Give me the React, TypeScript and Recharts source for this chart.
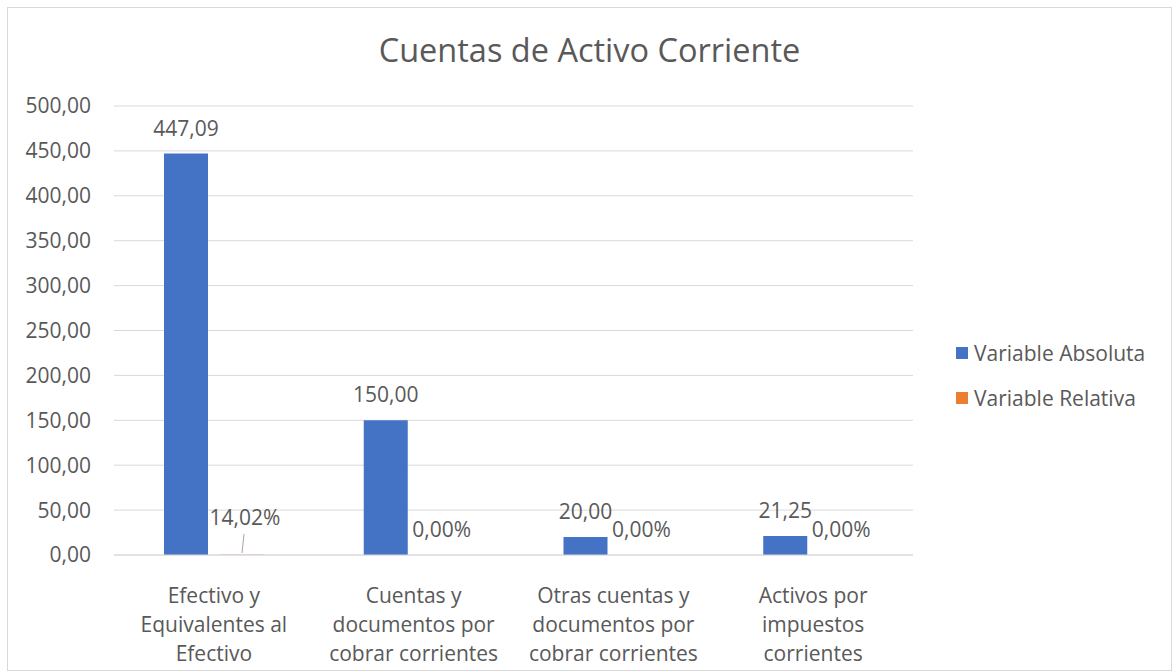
import React from "react";
import { BarChart, Bar, XAxis, YAxis, CartesianGrid, Legend, LabelList } from "recharts";

const categories = [
  "Efectivo y\nEquivalentes al\nEfectivo",
  "Cuentas y\ndocumentos por\ncobrar corrientes",
  "Otras cuentas y\ndocumentos por\ncobrar corrientes",
  "Activos por\nimpuestos\ncorrientes",
];
const variableAbsoluta = [447.09, 150.0, 20.0, 21.25];
const variableRelativa = [0.1402, 0, 0, 0];
const yTicks = [0, 50, 100, 150, 200, 250, 300, 350, 400, 450, 500];

const data = categories.map((name, i) => ({
  name,
  absoluta: variableAbsoluta[i],
  relativa: variableRelativa[i],
}));

const FONT = "'Open Sans', sans-serif";
const TEXT = "#595959";
const BLUE = "#4472C4";
const ORANGE = "#ED7D31";
const BAR_SIZE = 44;
const BAR_GAP = 12;
const FS = 21;

const fmt = (v: number) => v.toFixed(2).replace(".", ",");

function CategoryTick({ x, y, payload }: any) {
  const lines = String(payload.value).split("\n");
  return (
    <text x={x} y={y} textAnchor="middle" fill={TEXT} fontSize={FS} fontFamily={FONT}>
      {lines.map((l, i) => (
        <tspan key={i} x={x} y={y + 40 + i * 29}>
          {l}
        </tspan>
      ))}
    </text>
  );
}

// label for the relative series, placed over the (zero-height) orange bar next to each blue bar
function RelLabel({ x, width, index, yScaleZero }: any) {
  const value = variableRelativa[index];
  const cx = x + width + BAR_GAP + BAR_SIZE / 2;
  const y = yScaleZero;
  const txt = `${fmt(value * 100)}%`;
  if (value > 0) {
    return (
      <g>
        <text x={cx + 3} y={y - 30} textAnchor="middle" fill={TEXT} fontSize={FS} fontFamily={FONT}>
          {txt}
        </text>
        <line x1={cx + 2} y1={y - 21} x2={cx} y2={y - 2} stroke="#a6a6a6" strokeWidth={1} />
      </g>
    );
  }
  return (
    <text x={cx} y={y - 18} textAnchor="middle" fill={TEXT} fontSize={FS} fontFamily={FONT}>
      {txt}
    </text>
  );
}

function LegendBox() {
  const items = [
    { label: "Variable Absoluta", color: BLUE },
    { label: "Variable Relativa", color: ORANGE },
  ];
  return (
    <div style={{ fontFamily: FONT, fontSize: FS, color: TEXT }}>
      {items.map((it) => (
        <div key={it.label} style={{ display: "flex", alignItems: "center", height: 45 }}>
          <span style={{ display: "inline-block", width: 12, height: 12, background: it.color, marginRight: 6 }} />
          <span>{it.label}</span>
        </div>
      ))}
    </div>
  );
}

export default function App() {
  return (
    <div
      style={{
        position: "absolute",
        left: 7,
        top: 7,
        width: 1163,
        height: 662,
        border: "1px solid #d9d9d9",
        background: "#fff",
      }}
    >
      <div
        style={{
          position: "absolute",
          left: 0,
          right: 0,
          top: 19,
          textAlign: "center",
          fontFamily: FONT,
          fontSize: 32.5,
          color: TEXT,
        }}
      >
        Cuentas de Activo Corriente
      </div>
      <BarChart
        width={1163}
        height={662}
        data={data}
        margin={{ top: 98, right: 43, left: 0, bottom: 0 }}
        barSize={BAR_SIZE}
        barGap={BAR_GAP}
      >
        <CartesianGrid stroke="#d9d9d9" vertical={false} />
        <XAxis
          dataKey="name"
          tick={<CategoryTick />}
          tickLine={false}
          axisLine={{ stroke: "#d9d9d9" }}
          height={115}
          interval={0}
        />
        <YAxis
          domain={[0, 500]}
          ticks={yTicks}
          tickFormatter={fmt}
          tick={{ fill: TEXT, fontSize: FS, fontFamily: FONT }}
          tickLine={false}
          axisLine={false}
          tickMargin={17}
          width={106}
          interval={0}
        />
        <Legend
          layout="vertical"
          align="right"
          verticalAlign="middle"
          content={<LegendBox />}
          wrapperStyle={{ width: 215, left: 948, top: 322 }}
        />
        <Bar dataKey="absoluta" name="Variable Absoluta" fill={BLUE} isAnimationActive={false}>
          <LabelList
            dataKey="absoluta"
            position="top"
            offset={18}
            formatter={(v: any) => fmt(Number(v))}
            fill={TEXT}
            fontSize={FS}
            fontFamily={FONT}
          />
          <LabelList
            dataKey="relativa"
            content={(p: any) => <RelLabel {...p} yScaleZero={p.y + p.height} />}
          />
        </Bar>
        <Bar dataKey="relativa" name="Variable Relativa" fill={ORANGE} isAnimationActive={false} />
      </BarChart>
    </div>
  );
}
